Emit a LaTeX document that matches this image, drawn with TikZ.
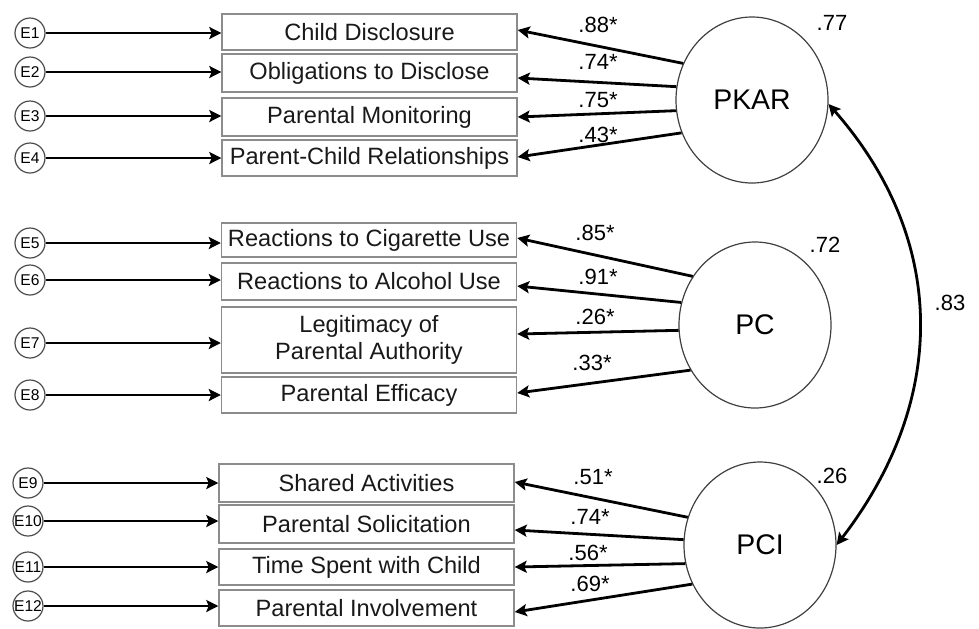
\documentclass[tikz,border=0pt]{standalone}
\usepackage{fontspec}
\setmainfont{Liberation Sans}
\usetikzlibrary{arrows.meta,calc,shapes.geometric}
\tikzset{
  obsbox/.style={draw=black!45, line width=0.7pt, rectangle, minimum width=147.5pt, inner sep=0pt,
    font=\fontsize{11.8}{13.5}\selectfont, text=black!90, align=center},
  errc/.style={draw=black!70, line width=0.6pt, circle, minimum size=15pt, inner sep=0pt,
    font=\fontsize{7.8}{8}\selectfont},
  latent/.style={draw=black!75, line width=0.6pt, ellipse, minimum width=76pt, minimum height=83pt, inner sep=0pt,
    font=\fontsize{14.2}{16}\selectfont},
  lab/.style={font=\fontsize{11}{12}\selectfont, inner sep=0pt},
  tip/.style={Stealth[length=6pt,width=6pt,inset=1.2pt]},
  arr/.style={line width=1.4pt, -{Stealth[length=6pt,width=6pt,inset=1.2pt]}},
}
\begin{document}
\begin{tikzpicture}[x=0.5pt,y=-0.5pt]
\useasboundingbox (0,0) rectangle (979,628);
% observed boxes
\node[obsbox, minimum height=18pt] (B1) at (369.5,32) {Child Disclosure};
\node[obsbox, minimum height=19pt] (B2) at (369.5,73) {Obligations to Disclose};
\node[obsbox, minimum height=19pt] (B3) at (369.5,117) {Parental Monitoring};
\node[obsbox, minimum height=18pt] (B4) at (369.5,158) {Parent-Child Relationships};
\node[obsbox, minimum height=17pt] (B5) at (369,240) {Reactions to Cigarette Use};
\node[obsbox, minimum height=18.5pt] (B6) at (369,281.5) {Reactions to Alcohol Use};
\node[obsbox, minimum height=33pt] (B7) at (369,340) {Legitimacy of\\Parental Authority};
\node[obsbox, minimum height=18pt] (B8) at (369,395) {Parental Efficacy};
\node[obsbox, minimum height=19pt] (B9) at (366.5,483) {Shared Activities};
\node[obsbox, minimum height=19pt] (B10) at (366.5,524) {Parental Solicitation};
\node[obsbox, minimum height=18pt] (B11) at (366.5,567) {Time Spent with Child};
\node[obsbox, minimum height=18pt] (B12) at (366.5,608) {Parental Involvement};
% error circles
\node[errc] (E1) at (30,33) {E1};
\node[errc] (E2) at (30,72) {E2};
\node[errc] (E3) at (30,116) {E3};
\node[errc] (E4) at (30,158) {E4};
\node[errc] (E5) at (30,243) {E5};
\node[errc] (E6) at (30,280) {E6};
\node[errc] (E7) at (30,343) {E7};
\node[errc] (E8) at (30,395) {E8};
\node[errc] (E9) at (28,483) {E9};
\node[errc] (E10) at (28,521) {E10};
\node[errc] (E11) at (28,567) {E11};
\node[errc] (E12) at (28,606) {E12};
\foreach \i in {1,...,12} {
  \draw[arr] (E\i.east) -- (E\i.east -| B\i.west);
}
% latent
\node[latent] (PKAR) at (752,100) {PKAR};
\node[latent] (PC) at (755,325) {PC};
\node[latent] (PCI) at (760,545) {PCI};
% loadings
\draw[arr] (PKAR.152) -- ($(B1.east)+(0,-2)$);
\draw[arr] (PKAR.170) -- ($(B2.east)+(0,5)$);
\draw[arr] (PKAR.188) -- (B3.east);
\draw[arr] (PKAR.205) -- ($(B4.east)+(0,-1)$);
\draw[arr] (PC.142) -- ($(B5.east)+(0,-2)$);
\draw[arr] (PC.163) -- ($(B6.east)+(0,4.5)$);
\draw[arr] (PC.184) -- ($(B7.east)+(0,-6)$);
\draw[arr] (PC.215) -- ($(B8.east)+(0,-2)$);
\draw[arr] (PCI.159) -- ($(B9.east)+(0,-1)$);
\draw[arr] (PCI.176) -- ($(B10.east)+(0,6)$);
\draw[arr] (PCI.194) -- (B11.east);
\draw[arr] (PCI.210) -- ($(B12.east)+(0,4)$);
% loading labels
\node[lab] (l1) at (598,25) {.88*};
\node[lab] (l2) at (598,62) {.74*};
\node[lab] (l3) at (598,100) {.75*};
\node[lab] (l4) at (598,135) {.43*};
\node[lab] (l5) at (595,233) {.85*};
\node[lab] (l6) at (598,277) {.91*};
\node[lab] (l7) at (595,317) {.26*};
\node[lab] (l8) at (592,363) {.33*};
\node[lab] (l9) at (593,477) {.51*};
\node[lab] (l10) at (590,517) {.74*};
\node[lab] (l11) at (588,553) {.56*};
\node[lab] (l12) at (590,584) {.69*};
% r-squared
\node[lab] (r1) at (832,23) {.77};
\node[lab] (r2) at (825,245) {.72};
\node[lab] (r3) at (832,476) {.26};
% correlation
\draw[line width=1.4pt, {Stealth[length=6pt,width=6pt,inset=1.2pt]}-{Stealth[length=6pt,width=6pt,inset=1.2pt]}]
  (PKAR.-3) .. controls (948,240) and (948,400) .. (PCI.0);
\node[lab] (c1) at (950,303) {.83};
\end{tikzpicture}
\end{document}
